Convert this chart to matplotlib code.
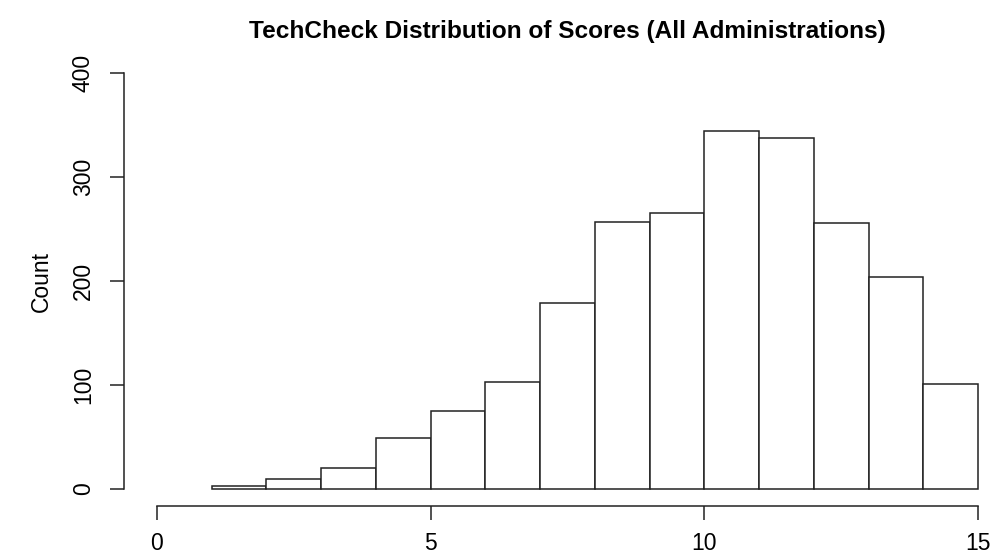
"""
Histogram of TechCheck scores, drawn in the style of R base graphics.
"""

import numpy as np
import matplotlib
matplotlib.use("Agg")
import matplotlib.pyplot as plt

plt.rcParams["font.family"] = ["Liberation Sans", "DejaVu Sans"]

# bin edges (score) and counts per bin
bin_edges = np.arange(1, 16)
counts = [3, 10, 20, 49, 75, 103, 179, 257, 265, 344, 338, 256, 204, 101]
x_ticks = [0, 5, 10, 15]
y_ticks = [0, 100, 200, 300, 400]

fig = plt.figure(figsize=(9.93, 5.59), dpi=100)
W, H = 993, 559
# plot region in pixels (left, right, top, bottom)
left, right, top, bottom = 124, 1011, 56.4, 505.6
ax = fig.add_axes([left / W, 1 - bottom / H, (right - left) / W, (bottom - top) / H])

ax.bar(bin_edges[:-1], counts, width=np.diff(bin_edges), align="edge",
       facecolor="white", edgecolor="#222222", linewidth=1.1)

ax.set_xlim(-0.6, 15.6)
ax.set_ylim(-16, 416)

for s in ("top", "right"):
    ax.spines[s].set_visible(False)
ax.spines["left"].set_bounds(0, 400)
ax.spines["bottom"].set_bounds(0, 15)
for s in ("left", "bottom"):
    ax.spines[s].set_linewidth(1.1)
    ax.spines[s].set_color("#222222")

ax.set_xticks(x_ticks)
ax.set_yticks(y_ticks)
ax.tick_params(axis="both", length=10, width=1.1, color="#222222",
               labelsize=16.5)
ax.tick_params(axis="x", pad=9)
ax.tick_params(axis="y", pad=11)
ax.set_yticklabels([str(v) for v in y_ticks], rotation=90, va="center")

ax.set_ylabel("Count", fontsize=16.5, labelpad=14)
fig.text((left + right) / 2 / W, 1 - 38 / H,
         "TechCheck Distribution of Scores (All Administrations)",
         ha="center", va="baseline", fontsize=17.6, fontweight="bold")

fig.savefig("out.png", dpi=100, facecolor="white")
